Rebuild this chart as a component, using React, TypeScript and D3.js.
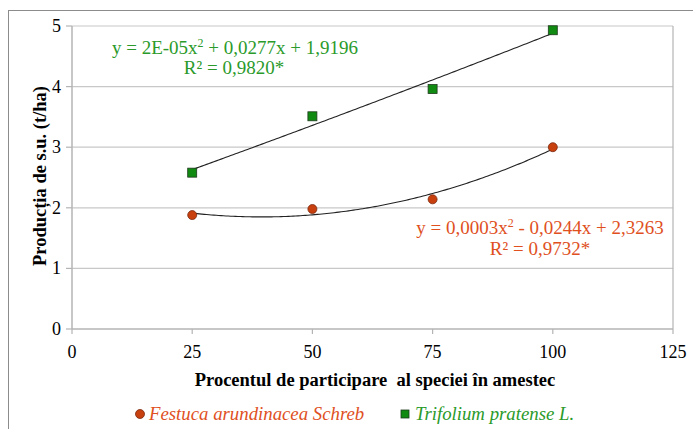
import React from "react";
import * as d3 from "d3";

const xValues = [25, 50, 75, 100];
const festuca = [1.88, 1.98, 2.14, 3.0];
const trifolium = [2.58, 3.51, 3.96, 4.93];
const xTicks = [0, 25, 50, 75, 100, 125];
const yTicks = [0, 1, 2, 3, 4, 5];
const seriesNames = ["Festuca arundinacea Schreb", "Trifolium pratense L."];
const eqFestuca = ["y = 0,0003x", " - 0,0244x + 2,3263", "R² = 0,9732*"];
const eqTrifolium = ["y = 2E-05x", " + 0,0277x + 1,9196", "R² = 0,9820*"];

const RED = "#c8400e";
const RED_TEXT = "#e0501e";
const GREEN = "#108a10";
const GREEN_TEXT = "#2a9a2a";

function quadFit(xs: number[], ys: number[]) {
  const n = xs.length;
  const s = [0, 0, 0, 0, 0];
  const t = [0, 0, 0];
  for (let i = 0; i < n; i++) {
    const xv = xs[i], yv = ys[i];
    for (let k = 0; k < 5; k++) s[k] += Math.pow(xv, k);
    for (let k = 0; k < 3; k++) t[k] += Math.pow(xv, k) * yv;
  }
  const M = [
    [s[4], s[3], s[2], t[2]],
    [s[3], s[2], s[1], t[1]],
    [s[2], s[1], s[0], t[0]],
  ];
  for (let i = 0; i < 3; i++) {
    for (let j = i + 1; j < 3; j++) {
      const f = M[j][i] / M[i][i];
      for (let k = i; k < 4; k++) M[j][k] -= f * M[i][k];
    }
  }
  const r = [0, 0, 0];
  for (let i = 2; i >= 0; i--) {
    let v = M[i][3];
    for (let k = i + 1; k < 3; k++) v -= M[i][k] * r[k];
    r[i] = v / M[i][i];
  }
  return (xv: number) => r[0] * xv * xv + r[1] * xv + r[2];
}

const SERIF = "'Liberation Serif'";

export default function App() {
  const W = 693, H = 429;
  const x = d3.scaleLinear().domain([0, 125]).range([72, 673]);
  const y = d3.scaleLinear().domain([0, 5]).range([329, 26]);
  const fF = quadFit(xValues, festuca);
  const fT = quadFit(xValues, trifolium);
  const samples = d3.range(25, 100.01, 0.5);
  const line = (f: (v: number) => number) =>
    d3.line<number>().x((d) => x(d)).y((d) => y(f(d)))(samples) || "";
  const ts = { fontFamily: SERIF };

  return (
    <svg width={W} height={H} style={{ position: "absolute", left: 0, top: 0, background: "#fff", fontFamily: SERIF }}>
      <rect x={8.5} y={10.5} width={W} height={H} fill="#fff" stroke="#8c8c8c" strokeWidth={1} />
      {yTicks.map((t) => (
        <g key={t}>
          {t > 0 && <line x1={72} x2={673} y1={y(t)} y2={y(t)} stroke="#c8c8c8" strokeWidth={1.2} />}
          <line x1={66} x2={72} y1={y(t)} y2={y(t)} stroke="#b4b4b4" strokeWidth={1.2} />
          <text style={ts} x={61} y={y(t) + 6} textAnchor="end" fontSize={18}>{t}</text>
        </g>
      ))}
      <line x1={72} x2={72} y1={26} y2={329} stroke="#b4b4b4" strokeWidth={1.5} />
      <line x1={673} x2={673} y1={26} y2={329} stroke="#b4b4b4" strokeWidth={1.2} />
      <line x1={72} x2={673} y1={329} y2={329} stroke="#b4b4b4" strokeWidth={1.5} />
      {xTicks.map((t) => (
        <g key={t}>
          <line x1={x(t)} x2={x(t)} y1={329} y2={334} stroke="#b4b4b4" strokeWidth={1.2} />
          <text style={ts} x={x(t)} y={358} textAnchor="middle" fontSize={18}>{t}</text>
        </g>
      ))}
      <text style={ts} x={375} y={386} textAnchor="middle" fontSize={18.5} fontWeight="bold">
        Procentul de participare&#160; al speciei în amestec
      </text>
      <text style={ts} transform="translate(46,176) rotate(-90)" textAnchor="middle" fontSize={18.5} fontWeight="bold">
        Producția de s.u. (t/ha)
      </text>

      <path d={line(fT)} fill="none" stroke="#222" strokeWidth={1.1} />
      <path d={line(fF)} fill="none" stroke="#222" strokeWidth={1.1} />

      {xValues.map((v, i) => (
        <rect key={"t" + i} x={x(v) - 4.5} y={y(trifolium[i]) - 4.5} width={9} height={9} fill={GREEN} stroke="#1e3a1e" strokeWidth={0.8} />
      ))}
      {xValues.map((v, i) => (
        <circle key={"f" + i} cx={x(v)} cy={y(festuca[i])} r={4.5} fill={RED} stroke="#7a2a10" strokeWidth={0.8} />
      ))}

      <text style={ts} x={235} y={54} textAnchor="middle" fontSize={19} fill={GREEN_TEXT}>
        {eqTrifolium[0]}<tspan dy={-7} fontSize={12}>2</tspan><tspan dy={7}>{eqTrifolium[1]}</tspan>
      </text>
      <text style={ts} x={234} y={74} textAnchor="middle" fontSize={19} fill={GREEN_TEXT}>{eqTrifolium[2]}</text>

      <text style={ts} x={540} y={234} textAnchor="middle" fontSize={19} fill={RED_TEXT}>
        {eqFestuca[0]}<tspan dy={-7} fontSize={12}>2</tspan><tspan dy={7}>{eqFestuca[1]}</tspan>
      </text>
      <text style={ts} x={540} y={255} textAnchor="middle" fontSize={19} fill={RED_TEXT}>{eqFestuca[2]}</text>

      <circle cx={140} cy={414} r={4.5} fill={RED} stroke="#7a2a10" strokeWidth={0.8} />
      <text style={ts} x={149} y={420} fontSize={18.8} fontStyle="italic" fill={RED_TEXT}>{seriesNames[0]}</text>
      <rect x={401} y={410} width={8} height={8} fill={GREEN} stroke="#1e3a1e" strokeWidth={0.8} />
      <text style={ts} x={415} y={420} fontSize={18.8} fontStyle="italic" fill={GREEN_TEXT}>{seriesNames[1]}</text>
    </svg>
  );
}
